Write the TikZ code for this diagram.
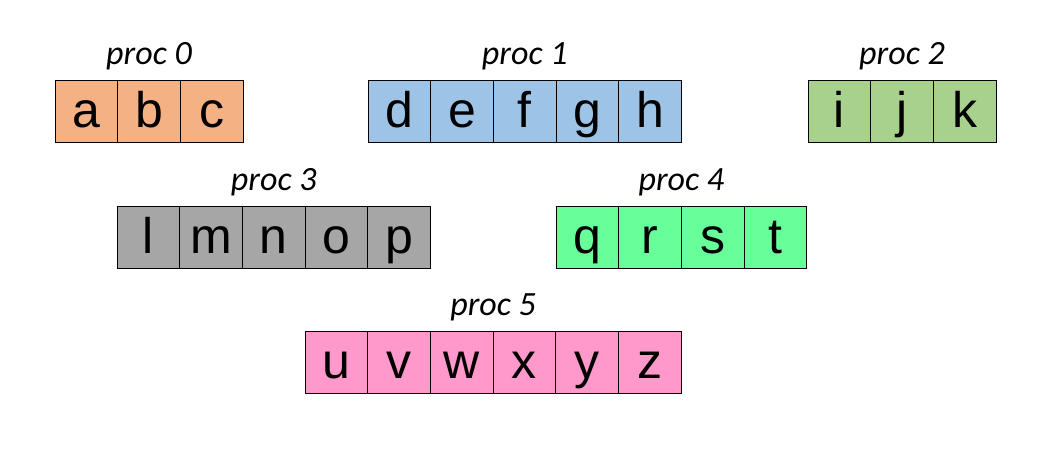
\documentclass[tikz,border=0pt]{standalone}
\usepackage{fontspec}
\setmainfont{Liberation Sans}
\newfontfamily\proclabelfont{Carlito}
\usetikzlibrary{positioning, calc}

\definecolor{proczero}{HTML}{F4B183}
\definecolor{procone}{HTML}{9DC3E6}
\definecolor{proctwo}{HTML}{A9D18E}
\definecolor{procthree}{HTML}{A6A6A6}
\definecolor{procfour}{HTML}{66FF99}
\definecolor{procfive}{HTML}{FF99CC}

\begin{document}
\begin{tikzpicture}[
		x=1pt, y=-1pt,
		% --- Styles ---
		cell/.style={
			draw, line width=0.8pt, minimum width=62.7pt, minimum height=62pt,
			inner sep=0pt, outer sep=0pt, text height=40pt, text depth=8pt,
			font=\fontsize{50}{50}\selectfont
		},
		proclabel/.style={
			anchor=base, font=\proclabelfont\itshape\fontsize{34}{34}\selectfont
		}
		]
		\useasboundingbox (0,0) rectangle (1047,458);
		
		% --- Rows of cells, one block per process ---
		% name / left x / centre y / colour / cell count / letters
		\foreach \name/\x/\y/\col/\n/\letters in {
			p0/55/111/proczero/3/{a,b,c},
			p1/368/111/procone/5/{d,e,f,g,h},
			p2/808/111/proctwo/3/{i,j,k},
			p3/117/237/procthree/5/{l,m,n,o,p},
			p4/556/237/procfour/4/{q,r,s,t},
			p5/305/362/procfive/6/{u,v,w,x,y,z}}
		{
			\foreach \l [count=\i] in \letters {
				\ifnum\i=1
				\node [cell, fill=\col, anchor=west] (\name-1) at (\x,\y) {\l};
				\else
				\pgfmathtruncatemacro\prev{\i-1}
				\node [cell, fill=\col, right=0pt of \name-\prev] (\name-\i) {\l};
				\fi
			}
			% label centred over the block
			\coordinate (\name-top) at ($(\name-1.north west)!0.5!(\name-\n.north east)$);
		}
		
		% --- Labels ---
		\node [proclabel] (lab0) at ($(p0-top)+(0,-16)$) {proc 0};
		\node [proclabel] (lab1) at ($(p1-top)+(0,-16)$) {proc 1};
		\node [proclabel] (lab2) at ($(p2-top)+(0,-16)$) {proc 2};
		\node [proclabel] (lab3) at ($(p3-top)+(0,-16)$) {proc 3};
		\node [proclabel] (lab4) at ($(p4-top)+(0,-16)$) {proc 4};
		\node [proclabel] (lab5) at ($(p5-top)+(0,-16)$) {proc 5};
		
\end{tikzpicture}
\end{document}
